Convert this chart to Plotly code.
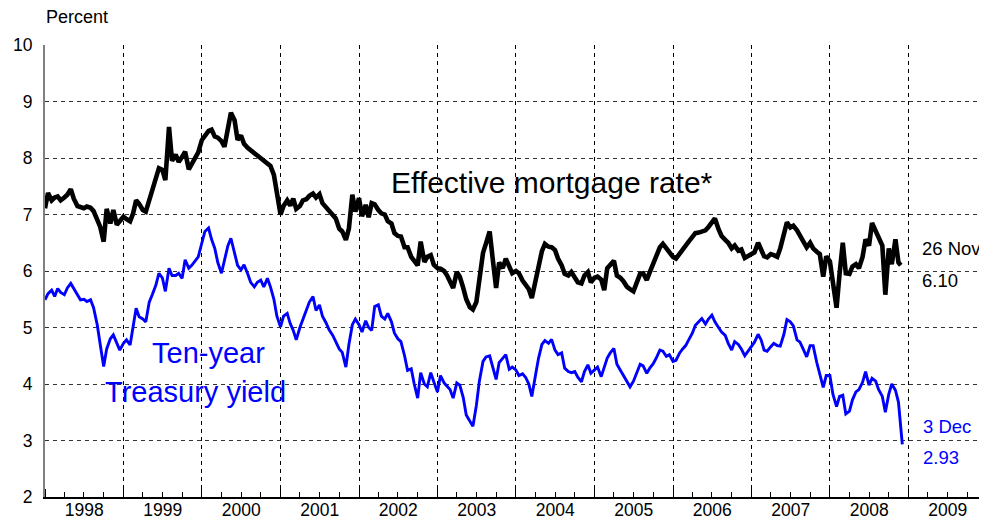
import pandas as pd
import plotly.graph_objects as go

# Semi-monthly observation dates (1st and 15th), Jan 1998 - mid Nov 2008
semi_monthly = pd.date_range("1998-01-01", "2008-11-15", freq="SMS")

# Effective mortgage rate (percent), 24 values per year
mortgage_rate = [
    7.11, 7.38, 7.25, 7.30, 7.32, 7.25, 7.30, 7.35, 7.45, 7.28, 7.15, 7.13, 7.11, 7.14, 7.12, 7.06, 6.92, 6.78, 6.52, 7.10, 6.84, 7.08, 6.82, 6.88,  # 1998
    6.96, 6.92, 6.88, 7.02, 7.25, 7.19, 7.08, 7.05, 7.24, 7.40, 7.60, 7.82, 7.79, 7.61, 8.55, 7.95, 8.06, 7.93, 8.02, 8.11, 7.80, 7.90, 7.98, 8.10,  # 1999
    8.32, 8.41, 8.48, 8.50, 8.38, 8.36, 8.30, 8.20, 8.50, 8.80, 8.67, 8.32, 8.40, 8.25, 8.18, 8.14, 8.08, 8.05, 8.00, 7.96, 7.92, 7.86, 7.70, 7.40,  # 2000
    7.00, 7.15, 7.25, 7.16, 7.28, 7.10, 7.15, 7.25, 7.27, 7.33, 7.37, 7.30, 7.36, 7.20, 7.13, 7.08, 7.00, 6.93, 6.75, 6.70, 6.55, 6.75, 7.35, 7.05,  # 2001
    7.29, 6.97, 7.17, 6.95, 7.20, 7.18, 7.08, 7.02, 7.00, 6.88, 6.84, 6.67, 6.62, 6.61, 6.42, 6.42, 6.25, 6.18, 6.10, 6.52, 6.16, 6.25, 6.28, 6.11,  # 2002
    6.05, 6.04, 6.00, 5.92, 5.82, 5.70, 5.98, 5.90, 5.70, 5.50, 5.36, 5.32, 5.45, 5.80, 6.32, 6.49, 6.70, 6.22, 5.70, 6.15, 6.05, 6.22, 6.06, 5.96,  # 2003
    6.00, 5.96, 5.83, 5.75, 5.68, 5.52, 5.80, 6.05, 6.35, 6.48, 6.43, 6.42, 6.37, 6.22, 6.10, 5.95, 5.92, 5.98, 5.90, 5.80, 5.78, 5.92, 5.98, 5.80,  # 2004
    5.88, 5.90, 5.85, 5.66, 6.05, 6.12, 6.18, 5.92, 5.88, 5.82, 5.72, 5.68, 5.64, 5.78, 5.95, 5.96, 5.84, 5.98, 6.12, 6.25, 6.42, 6.48, 6.40, 6.32,  # 2005
    6.25, 6.22, 6.32, 6.38, 6.45, 6.52, 6.60, 6.67, 6.68, 6.70, 6.72, 6.78, 6.85, 6.93, 6.74, 6.62, 6.55, 6.50, 6.40, 6.45, 6.36, 6.38, 6.23, 6.26,  # 2006
    6.28, 6.33, 6.50, 6.36, 6.26, 6.24, 6.30, 6.28, 6.25, 6.40, 6.65, 6.86, 6.77, 6.80, 6.72, 6.63, 6.54, 6.42, 6.50, 6.40, 6.34, 6.30, 5.90, 6.26,  # 2007
    6.17, 5.75, 5.35, 5.95, 6.50, 5.96, 5.95, 6.08, 6.12, 6.05, 6.25, 6.56, 6.45, 6.85, 6.70, 6.60, 6.45, 5.58, 6.40, 6.12, 6.56, 6.15,              # 2008
]
mortgage_tail_dates = ["2008-11-26"]
mortgage_tail = [6.10]

# Ten-year Treasury yield (percent), 24 values per year
treasury_yield = [
    5.49, 5.60, 5.66, 5.55, 5.69, 5.62, 5.58, 5.70, 5.78, 5.70, 5.58, 5.49, 5.50, 5.46, 5.49, 5.35, 5.05, 4.70, 4.31, 4.62, 4.80, 4.87, 4.72, 4.60,  # 1998
    4.72, 4.78, 4.69, 5.01, 5.34, 5.19, 5.15, 5.10, 5.45, 5.58, 5.75, 5.96, 5.88, 5.64, 6.05, 5.92, 5.92, 5.96, 5.87, 6.20, 6.05, 6.10, 6.19, 6.25,  # 1999
    6.50, 6.70, 6.76, 6.56, 6.40, 6.15, 5.96, 6.20, 6.45, 6.58, 6.32, 6.10, 6.02, 6.11, 5.95, 5.80, 5.72, 5.80, 5.84, 5.72, 5.87, 5.72, 5.50, 5.20,  # 2000
    5.01, 5.20, 5.25, 5.07, 4.95, 4.78, 5.00, 5.15, 5.31, 5.45, 5.55, 5.30, 5.40, 5.20, 5.08, 4.96, 4.86, 4.75, 4.62, 4.56, 4.30, 4.70, 5.05, 5.15,  # 2001
    5.05, 4.92, 5.12, 5.00, 4.95, 5.37, 5.40, 5.20, 5.15, 5.25, 5.10, 4.90, 4.80, 4.75, 4.50, 4.24, 4.27, 4.00, 3.75, 4.20, 4.00, 3.95, 4.20, 4.04,  # 2002
    3.86, 4.15, 4.02, 3.96, 3.90, 3.75, 4.02, 3.98, 3.76, 3.45, 3.33, 3.25, 3.62, 4.05, 4.40, 4.48, 4.50, 4.32, 4.08, 4.38, 4.45, 4.52, 4.26, 4.30,  # 2003
    4.25, 4.15, 4.18, 4.12, 4.00, 3.78, 4.15, 4.45, 4.70, 4.77, 4.72, 4.79, 4.60, 4.52, 4.55, 4.28, 4.22, 4.20, 4.22, 4.12, 4.04, 4.22, 4.34, 4.19,  # 2004
    4.25, 4.30, 4.13, 4.30, 4.46, 4.55, 4.63, 4.35, 4.25, 4.17, 4.06, 3.95, 4.05, 4.20, 4.35, 4.32, 4.19, 4.28, 4.36, 4.46, 4.60, 4.58, 4.49, 4.52,  # 2005
    4.40, 4.42, 4.55, 4.62, 4.68, 4.78, 4.90, 5.04, 5.10, 5.16, 5.06, 5.15, 5.22, 5.10, 5.00, 4.92, 4.86, 4.72, 4.60, 4.75, 4.70, 4.62, 4.50, 4.58,  # 2006
    4.68, 4.74, 4.88, 4.78, 4.60, 4.58, 4.66, 4.72, 4.68, 4.67, 4.88, 5.14, 5.10, 5.03, 4.78, 4.74, 4.60, 4.48, 4.68, 4.68, 4.38, 4.18, 3.94, 4.15,  # 2007
    4.15, 3.82, 3.60, 3.78, 3.80, 3.47, 3.52, 3.72, 3.86, 3.90, 4.03, 4.22, 3.98, 4.10, 4.05, 3.90, 3.78, 3.50, 3.82, 4.00, 3.89, 3.68,              # 2008
]
treasury_tail_dates = ["2008-11-26", "2008-12-03"]
treasury_tail = [3.15, 2.93]

assert len(mortgage_rate) == len(semi_monthly) == len(treasury_yield)

mortgage_x = list(semi_monthly) + list(pd.to_datetime(mortgage_tail_dates))
mortgage_y = mortgage_rate + mortgage_tail
treasury_x = list(semi_monthly) + list(pd.to_datetime(treasury_tail_dates))
treasury_y = treasury_yield + treasury_tail

FONT = "Liberation Sans, Arial, Helvetica, sans-serif"
BLUE = "#0000FF"

fig = go.Figure()
fig.add_trace(go.Scatter(x=treasury_x, y=treasury_y, mode="lines",
                         line=dict(color=BLUE, width=2.9), hoverinfo="skip",
                         showlegend=False))
fig.add_trace(go.Scatter(x=mortgage_x, y=mortgage_y, mode="lines",
                         line=dict(color="black", width=4.6), hoverinfo="skip",
                         showlegend=False))

# The page body adds an 8px offset; screen pixel positions below are
# relative to the photographed window.
OFF = 8
PLOT_L, PLOT_R, PLOT_T, PLOT_B = 45, 987, 45, 497


def px_x(p):
    return (p - PLOT_L) / float(PLOT_R - PLOT_L)


def px_y(p):
    return (PLOT_B - p) / float(PLOT_B - PLOT_T)


annotations = [
    dict(text="Percent", x=0, y=px_y(17), xanchor="left", yanchor="middle",
         font=dict(size=18, color="black")),
    dict(text="Effective mortgage rate*", x=px_x(390), y=px_y(182),
         xanchor="left", yanchor="middle", font=dict(size=30, color="black")),
    dict(text="Ten-year", x=px_x(208), y=px_y(353), xanchor="center",
         yanchor="middle", font=dict(size=29, color=BLUE)),
    dict(text="Treasury yield", x=px_x(195), y=px_y(392), xanchor="center",
         yanchor="middle", font=dict(size=29, color=BLUE)),
    dict(text="26 Nov", x=px_x(921), y=px_y(248), xanchor="left",
         yanchor="middle", font=dict(size=18.5, color="black")),
    dict(text="6.10", x=px_x(921), y=px_y(280), xanchor="left",
         yanchor="middle", font=dict(size=18.5, color="black")),
    dict(text="3 Dec", x=px_x(922), y=px_y(426), xanchor="left",
         yanchor="middle", font=dict(size=18.5, color=BLUE)),
    dict(text="2.93", x=px_x(922), y=px_y(457), xanchor="left",
         yanchor="middle", font=dict(size=18.5, color=BLUE)),
]
for a in annotations:
    a.update(xref="paper", yref="paper", showarrow=False, borderpad=0)

W, H = 987 - OFF, 520 - OFF
fig.update_layout(
    width=W, height=H,
    margin=dict(l=PLOT_L - OFF, r=W - (PLOT_R - OFF), t=PLOT_T - OFF,
                b=H - (PLOT_B - OFF), autoexpand=False),
    paper_bgcolor="white", plot_bgcolor="white",
    font=dict(family=FONT, color="black"),
    annotations=annotations,
    xaxis=dict(
        type="date", range=["1998-01-01", "2010-01-01"],
        tick0="1998-01-01", dtick="M12", tickformat="%Y",
        ticklabelmode="period", automargin=False,
        showgrid=True, gridcolor="black", gridwidth=1, griddash="4px,4px",
        ticks="inside", ticklen=8, tickcolor="black", tickwidth=1,
        showline=True, linecolor="black", linewidth=1.5,
        minor=dict(dtick="M3", tick0="1998-01-01", ticks="inside",
                   ticklen=5, tickcolor="black", showgrid=False),
        tickfont=dict(size=17.5, color="black"),
        ticklabelstandoff=-4,
        zeroline=False, fixedrange=True,
    ),
    yaxis=dict(
        range=[2, 10], tick0=2, dtick=1, automargin=False,
        showgrid=True, gridcolor="#333333", gridwidth=1, griddash="4px,4px",
        ticks="", ticklabelstandoff=7,
        showline=True, linecolor="#7f7f7f", linewidth=2,
        tickfont=dict(size=17.5, color="black"),
        zeroline=False, fixedrange=True,
    ),
)

fig.write_html("out.html")
